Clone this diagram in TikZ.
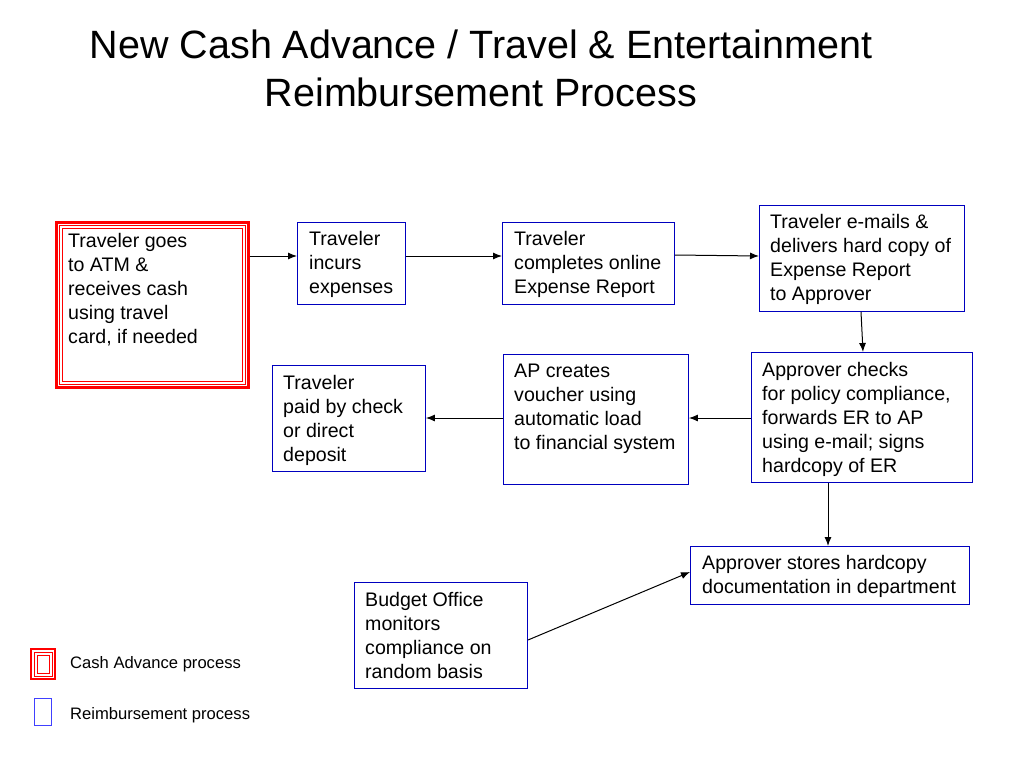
\documentclass[tikz,border=0pt]{standalone}
\usepackage{fontspec}
\setmainfont{Liberation Sans}
\usetikzlibrary{arrows.meta}
\begin{document}
\begin{tikzpicture}[x=1pt,y=-1pt,
  bbox/.style={draw=blue!75!black, line width=0.9pt, anchor=north west, inner sep=0pt},
  txt/.style={anchor=north west, align=left, inner sep=0pt, font=\fontsize{19.6}{24}\selectfont},
  arr/.style={-{Latex[length=9pt,width=7pt]}, line width=1pt}]
\useasboundingbox (0,0) rectangle (1024,768);
\node[anchor=center, align=center, font=\fontsize{39.5}{48}\selectfont] (title) at (481,68) {New Cash Advance / Travel \& Entertainment\\Reimbursement Process};
% red box
\node[anchor=north west, draw=red, line width=2.5pt, minimum width=192pt, minimum height=165pt, inner sep=0pt] (a) at (55,221) {};
\draw[red, line width=0.8pt] ([shift={(4,4)}]a.north west) rectangle ([shift={(-4,-4)}]a.south east);
\draw[red, line width=0.8pt] ([shift={(7,7)}]a.north west) rectangle ([shift={(-7,-7)}]a.south east);
\node[txt] (at) at (68,233) {Traveler goes\\to ATM \&\\receives cash\\using travel\\card, if needed};
\node[bbox, minimum width=108pt, minimum height=82pt] (b) at (297,222) {};
\node[txt] (bt) at (309,231) {Traveler\\incurs\\expenses};
\node[bbox, minimum width=172pt, minimum height=82pt] (c) at (502,222) {};
\node[txt] (ct) at (514,231) {Traveler\\completes online\\Expense Report};
\node[bbox, minimum width=205pt, minimum height=106pt] (d) at (759,205) {};
\node[txt] (dt) at (770,214) {Traveler e-mails \&\\delivers hard copy of\\Expense Report\\to Approver};
\node[bbox, minimum width=221pt, minimum height=130pt] (e) at (751,352) {};
\node[txt] (et) at (762,362) {Approver checks\\for policy compliance,\\forwards ER to AP\\using e-mail; signs\\hardcopy of ER};
\node[bbox, minimum width=185pt, minimum height=130pt] (f) at (503,354) {};
\node[txt] (ft) at (514,364) {AP creates\\voucher using\\automatic load\\to financial system};
\node[bbox, minimum width=153pt, minimum height=106pt] (g) at (272,365) {};
\node[txt] (gt) at (283,375) {Traveler\\paid by check\\or direct\\deposit};
\node[bbox, minimum width=279pt, minimum height=58pt] (h) at (690,546) {};
\node[txt] (ht) at (702,555) {Approver stores hardcopy\\documentation in department};
\node[bbox, minimum width=173pt, minimum height=106pt] (i) at (354,582) {};
\node[txt] (it) at (365,592) {Budget Office\\monitors\\compliance on\\random basis};
% arrows
\draw[arr] (a.east |- 0,256) -- (b.west |- 0,256);
\draw[arr] (b.east |- 0,256) -- (c.west |- 0,256);
\draw[arr] (c.east |- 0,255) -- (d.west |- 0,256);
\draw[arr] (d.south -| 861,0) -- (e.north -| 863,0);
\draw[arr] (e.west |- 0,418) -- (f.east |- 0,418);
\draw[arr] (f.west |- 0,418) -- (g.east |- 0,418);
\draw[arr] (e.south -| 828,0) -- (h.north -| 828,0);
\coordinate (istart) at (528,640);
\draw[arr] (istart) -- (h.west |- 0,572);
% legend
\node[anchor=north west, draw=red, line width=2pt, minimum width=24pt, minimum height=30pt, inner sep=0pt] (l1) at (30,648) {};
\draw[red, line width=0.8pt] ([shift={(4,4)}]l1.north west) rectangle ([shift={(-4,-4)}]l1.south east);
\draw[red, line width=0.8pt] ([shift={(7,7)}]l1.north west) rectangle ([shift={(-7,-7)}]l1.south east);
\node[anchor=west, inner sep=0pt, font=\fontsize{16.6}{18}\selectfont] (l1t) at (70,664) {Cash Advance process};
\node[anchor=north west, draw=blue!75!white, line width=0.9pt, minimum width=17pt, minimum height=27pt, inner sep=0pt] (l2) at (34,698) {};
\node[anchor=west, inner sep=0pt, font=\fontsize{16.6}{18}\selectfont] (l2t) at (70,715) {Reimbursement process};
\end{tikzpicture}
\end{document}
